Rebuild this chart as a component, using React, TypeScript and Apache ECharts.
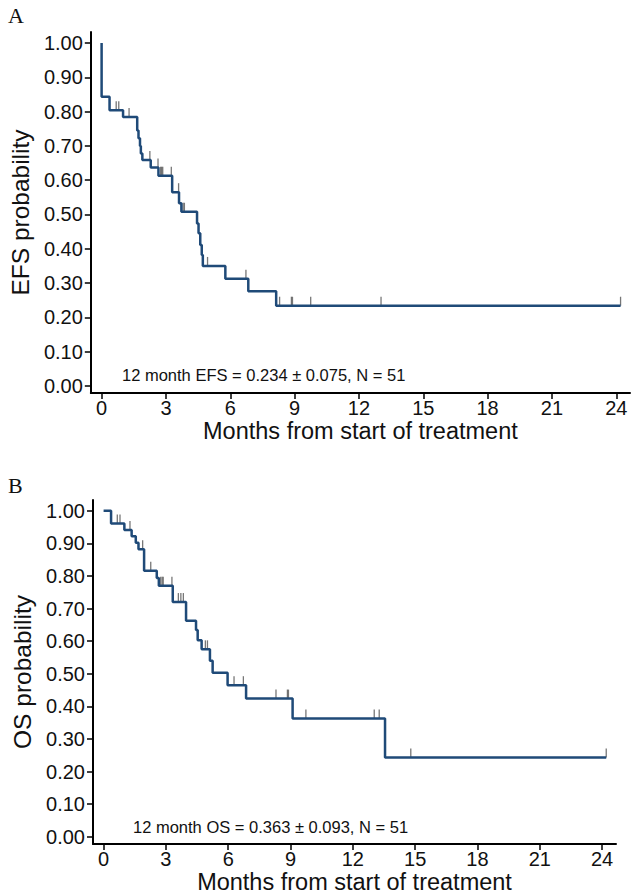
import React, { useEffect, useRef } from "react";
import * as echarts from "echarts";

// ---------- data ----------
const xTicks = [0, 3, 6, 9, 12, 15, 18, 21, 24];
const yTicks = [0, 0.1, 0.2, 0.3, 0.4, 0.5, 0.6, 0.7, 0.8, 0.9, 1.0];

// EFS (panel A): event times (months) and survival after each event
const efsTimes = [0, 0.37, 1.0, 1.66, 1.72, 1.79, 1.83, 1.9, 2.29, 2.65, 3.29, 3.61, 3.72, 4.45, 4.52, 4.6, 4.67, 4.72, 5.77, 6.84, 8.14];
const efsSurv = [0.843, 0.804, 0.784, 0.745, 0.722, 0.7, 0.678, 0.659, 0.637, 0.613, 0.565, 0.533, 0.508, 0.474, 0.445, 0.411, 0.382, 0.35, 0.313, 0.276, 0.234];
const efsEnd = 24.2;
const efsCensor = [0.68, 0.8, 1.28, 2.25, 2.63, 2.75, 2.8, 2.85, 3.25, 3.59, 3.8, 3.86, 4.94, 6.73, 8.3, 8.85, 8.9, 9.75, 13.03, 24.2];

// OS (panel B)
const osTimes = [0.36, 1.0, 1.35, 1.55, 1.68, 1.95, 2.56, 2.66, 3.33, 3.97, 4.45, 4.53, 4.72, 5.12, 5.25, 5.97, 6.86, 9.1, 13.55];
const osSurv = [0.961, 0.941, 0.922, 0.902, 0.882, 0.816, 0.794, 0.77, 0.72, 0.663, 0.634, 0.603, 0.575, 0.54, 0.503, 0.465, 0.424, 0.363, 0.243];
const osEnd = 24.2;
const osCensor = [0.66, 0.79, 1.27, 1.88, 2.27, 2.75, 2.82, 2.87, 3.29, 3.6, 3.72, 3.84, 4.9, 5.0, 6.28, 6.73, 8.3, 8.85, 8.9, 9.74, 13.03, 13.27, 14.79, 24.2];

const efsNote = "12 month EFS = 0.234 \u00b1 0.075, N = 51";
const osNote = "12 month OS = 0.363 \u00b1 0.093, N = 51";

// ---------- helpers ----------
function stepLine(times: number[], surv: number[], end: number) {
  const pts: number[][] = [];
  let cur = 1;
  pts.push([0, 1]);
  for (let i = 0; i < times.length; i++) {
    pts.push([times[i], cur]);
    cur = surv[i];
    pts.push([times[i], cur]);
  }
  pts.push([end, cur]);
  return pts;
}
function survAt(times: number[], surv: number[], t: number) {
  let s = 1;
  for (let i = 0; i < times.length; i++) if (times[i] <= t) s = surv[i];
  return s;
}

const LINE = "#1f4a78";
const FONT = "Liberation Sans";

function xAxisCfg(gridIndex: number, min: number, max: number) {
  return {
    type: "value",
    gridIndex,
    min,
    max,
    axisLine: { show: true, onZero: false, lineStyle: { color: "#000", width: 2 } },
    axisTick: { show: true, customValues: xTicks, length: 6, lineStyle: { color: "#000", width: 1.5 } },
    axisLabel: { customValues: xTicks, fontSize: 20, color: "#111", fontFamily: FONT, margin: 5 },
    splitLine: { show: false },
    name: "Months from start of treatment",
    nameLocation: "middle",
    nameGap: 25,
    nameTextStyle: { fontSize: 23.5, color: "#111", fontFamily: FONT },
  };
}
function yAxisCfg(gridIndex: number, min: number, max: number, name: string) {
  return {
    type: "value",
    gridIndex,
    min,
    max,
    axisLine: { show: true, onZero: false, lineStyle: { color: "#000", width: 2 } },
    axisTick: { show: true, customValues: yTicks, length: 6, lineStyle: { color: "#000", width: 1.5 } },
    axisLabel: {
      customValues: yTicks,
      fontSize: 20,
      color: "#111",
      fontFamily: FONT,
      margin: 8,
      formatter: (v: number) => v.toFixed(2),
    },
    splitLine: { show: false },
    name,
    nameLocation: "middle",
    nameGap: 55,
    nameTextStyle: { fontSize: 24.5, color: "#111", fontFamily: FONT },
  };
}

export default function App() {
  const ref = useRef<HTMLDivElement>(null);
  useEffect(() => {
    if (!ref.current) return;
    const chart = echarts.init(ref.current, null, { renderer: "svg" });
    const efsCensorPts = efsCensor.map((t) => [t, survAt(efsTimes, efsSurv, t)]);
    const osCensorPts = osCensor.map((t) => [t, survAt(osTimes, osSurv, t)]);
    chart.setOption({
      animation: false,
      backgroundColor: "#fff",
      grid: [
        { left: 80, right: 3, top: 32, bottom: 503 },
        { left: 93, right: 17, top: 500, bottom: 52 },
      ],
      xAxis: [xAxisCfg(0, -0.503, 24.64), xAxisCfg(1, -0.51, 24.67)],
      yAxis: [
        yAxisCfg(0, -0.0204, 1.032, "EFS probability"),
        yAxisCfg(1, -0.022, 1.033, "OS probability"),
      ],
      series: [
        {
          type: "line",
          xAxisIndex: 0,
          yAxisIndex: 0,
          data: stepLine(efsTimes, efsSurv, efsEnd),
          showSymbol: false,
          lineStyle: { color: LINE, width: 2.5 },
          z: 3,
        },
        {
          type: "scatter",
          xAxisIndex: 0,
          yAxisIndex: 0,
          data: efsCensorPts,
          symbol: "rect",
          symbolSize: [1.3, 9],
          symbolOffset: [0, -4.5],
          itemStyle: { color: "#555" },
          z: 2,
        },
        {
          type: "line",
          xAxisIndex: 1,
          yAxisIndex: 1,
          data: stepLine(osTimes, osSurv, osEnd),
          showSymbol: false,
          lineStyle: { color: LINE, width: 2.5 },
          z: 3,
        },
        {
          type: "scatter",
          xAxisIndex: 1,
          yAxisIndex: 1,
          data: osCensorPts,
          symbol: "rect",
          symbolSize: [1.3, 9],
          symbolOffset: [0, -4.5],
          itemStyle: { color: "#555" },
          z: 2,
        },
      ],
      graphic: [
        { type: "text", left: 8, top: 4, style: { text: "A", fontSize: 22, fontFamily: "Liberation Serif", fill: "#111" } },
        { type: "text", left: 8, top: 474, style: { text: "B", fontSize: 22, fontFamily: "Liberation Serif", fill: "#111" } },
        { type: "text", left: 122, top: 366.5, style: { text: efsNote, fontSize: 16.5, fontFamily: FONT, fill: "#111" } },
        { type: "text", left: 133, top: 818.5, style: { text: osNote, fontSize: 16.5, fontFamily: FONT, fill: "#111" } },
      ],
    });
    return () => chart.dispose();
  }, []);
  return (
    <div
      ref={ref}
      style={{ position: "absolute", left: 0, top: 0, width: 633, height: 896 }}
    />
  );
}
